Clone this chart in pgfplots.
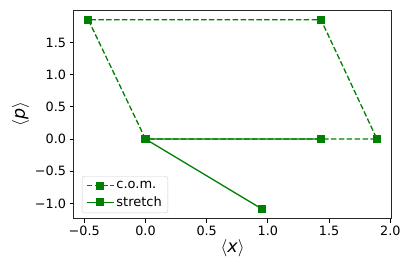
\documentclass[border=0pt]{standalone}
\usepackage{pgfplots}
\pgfplotsset{compat=1.18}
\usepackage{fontspec}
\setmainfont{DejaVu Sans}
\definecolor{mplgreen}{HTML}{008000}
\begin{document}
\begin{tikzpicture}
\begin{axis}[
  scale only axis,
  width=317.3pt, height=208pt,
  xmin=-0.584, xmax=2.008,
  ymin=-1.231, ymax=2.0,
  xtick={-0.5,0,0.5,1,1.5,2},
  xticklabels={−0.5,0.0,0.5,1.0,1.5,2.0},
  ytick={-1,-0.5,0,0.5,1,1.5},
  yticklabels={−1.0,−0.5,0.0,0.5,1.0,1.5},
  tick align=outside,
  tick pos=lower,
  major tick length=4.4pt,
  tick style={black, line width=1pt},
  axis line style={line width=1pt, draw=black!85},
  ticklabel style={font=\fontsize{12.8}{14}\selectfont},
  xlabel={$\langle$\textit{x}$\rangle$},
  ylabel={$\langle$\textit{p}$\rangle$},
  label style={font=\fontsize{17.5}{19}\selectfont},
  xlabel style={yshift=3pt},
  ylabel style={yshift=-1pt},
  legend style={at={(0.025,0.025)}, anchor=south west, draw=black!20, rounded corners=2.5pt,
    font=\fontsize{13}{15}\selectfont, inner xsep=4pt, inner ysep=3pt, row sep=2.5pt,
    /tikz/every even column/.append style={column sep=3pt}},
  legend image code/.code={\draw[mark repeat=2,mark phase=2,#1] plot coordinates {(0pt,0pt) (13.5pt,0pt) (27pt,0pt)};},
  legend cell align=left,
]
\addplot[mplgreen, line width=1.3pt, dash pattern=on 5.5pt off 2.4pt, mark=square*, mark size=3.4pt, mark options={solid}]
  coordinates {(0,0) (-0.467,1.852) (1.434,1.852) (1.891,0) (1.436,0) (0,0)};
\addlegendentry{c.o.m.}
\addplot[mplgreen, line width=1.3pt, solid, mark=square*, mark size=3.4pt]
  coordinates {(0.952,-1.087) (0,0) (1.436,0)};
\addlegendentry{stretch}
\end{axis}
\pgfresetboundingbox
\path ([xshift=-74pt,yshift=-54.7pt]current axis.south west) rectangle ([xshift=17.7pt,yshift=10.3pt]current axis.north east);
\end{tikzpicture}
\end{document}
